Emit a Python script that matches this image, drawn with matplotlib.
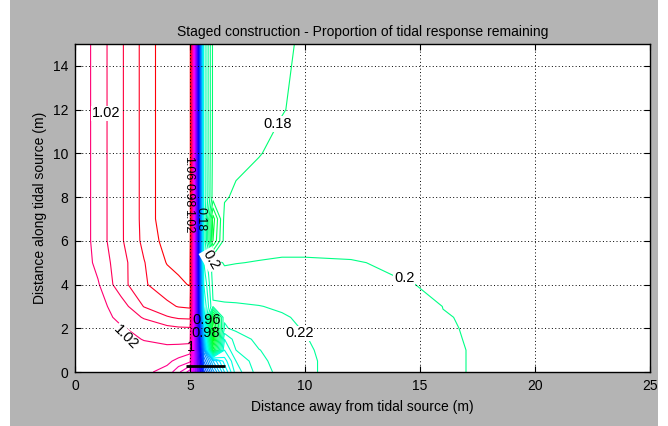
import numpy as np
import matplotlib
matplotlib.use('Agg')
import matplotlib.pyplot as plt
from matplotlib.colors import hsv_to_rgb
from matplotlib.patches import Rectangle

# ---- data -----------------------------------------------------------------
x_nodes = [0, 1, 2, 3, 4, 4.5, 5.0, 5.6, 6.0, 6.5, 7, 8, 9, 10, 12, 14, 16, 18, 20, 25]
y_nodes = [0, 0.5, 1, 1.5, 2, 2.5, 3, 4, 5, 6, 7, 8, 10, 12, 15]

# proportion of tidal response remaining, one row per y node
z_y00 = [1.001, 1.001, 1.003, 1.004, 0.994, 0.965, 0.930, 0.55, 0.45, 0.36, 0.29, 0.25, 0.233, 0.2215, 0.216, 0.210, 0.2015, 0.1985, 0.198, 0.197]
z_y05 = [1.001, 1.002, 1.005, 1.008, 1.004, 0.995, 0.985, 0.50, 0.40, 0.33, 0.28, 0.245, 0.232, 0.2215, 0.216, 0.210, 0.2015, 0.1985, 0.198, 0.197]
z_y10 = [1.001, 1.003, 1.008, 1.013, 1.015, 1.012, 1.008, 0.45, 0.12, 0.30, 0.26, 0.2405, 0.233, 0.2215, 0.214, 0.209, 0.2015, 0.1985, 0.198, 0.197]
z_y15 = [1.001, 1.005, 1.013, 1.021, 1.025, 1.027, 1.028, 0.40, 0.07, 0.28, 0.25, 0.235, 0.227, 0.2205, 0.214, 0.208, 0.2011, 0.1985, 0.198, 0.197]
z_y20 = [1.001, 1.007, 1.018, 1.027, 1.034, 1.037, 1.038, 0.36, 0.08, 0.242, 0.236, 0.231, 0.2235, 0.219, 0.213, 0.207, 0.2008, 0.1985, 0.198, 0.197]
z_y25 = [1.001, 1.011, 1.025, 1.042, 1.058, 1.063, 1.064, 0.33, 0.10, 0.238, 0.234, 0.228, 0.2215, 0.2175, 0.212, 0.206, 0.2003, 0.199, 0.198, 0.197]
z_y30 = [1.001, 1.013, 1.030, 1.061, 1.076, 1.081, 1.083, 0.30, 0.222, 0.222, 0.222, 0.2205, 0.218, 0.215, 0.211, 0.206, 0.1999, 0.198, 0.197, 0.196]
z_y40 = [1.001, 1.018, 1.052, 1.078, 1.090, 1.097, 1.101, 0.28, 0.215, 0.212, 0.21, 0.209, 0.208, 0.207, 0.205, 0.201, 0.1985, 0.197, 0.196, 0.195]
z_y50 = [1.001, 1.026, 1.052, 1.079, 1.101, 1.104, 1.106, 0.26, 0.21, 0.198, 0.1995, 0.2008, 0.202, 0.202, 0.201, 0.198, 0.196, 0.195, 0.194, 0.193]
z_y60 = [1.001, 1.029, 1.057, 1.085, 1.108, 1.112, 1.114, 0.26, 0.12, 0.188, 0.192, 0.193, 0.194, 0.194, 0.194, 0.194, 0.194, 0.194, 0.194, 0.194]
z_y70 = [1.001, 1.029, 1.057, 1.086, 1.114, 1.117, 1.118, 0.26, 0.11, 0.186, 0.19, 0.191, 0.192, 0.192, 0.192, 0.192, 0.192, 0.192, 0.192, 0.192]
z_y80 = [1.001, 1.029, 1.057, 1.086, 1.114, 1.117, 1.118, 0.26, 0.17, 0.178, 0.183, 0.185, 0.186, 0.187, 0.188, 0.189, 0.189, 0.190, 0.190, 0.190]
z_y100 = [1.001, 1.029, 1.057, 1.086, 1.114, 1.117, 1.118, 0.26, 0.174, 0.172, 0.175, 0.1795, 0.183, 0.185, 0.187, 0.188, 0.189, 0.190, 0.190, 0.190]
z_y120 = [1.001, 1.029, 1.057, 1.086, 1.114, 1.117, 1.118, 0.26, 0.175, 0.172, 0.173, 0.175, 0.1795, 0.1825, 0.186, 0.188, 0.189, 0.190, 0.190, 0.190]
z_y150 = [1.001, 1.029, 1.057, 1.086, 1.114, 1.117, 1.118, 0.26, 0.175, 0.172, 0.172, 0.174, 0.1786, 0.1812, 0.186, 0.188, 0.189, 0.190, 0.190, 0.190]

# contour labels: text, x, y, rotation, white background
label_text = ['1.02', '1.02', '0.18', '0.2', '0.22', '0.2', '0.96', '0.98', '1',
              '1.06', '0.98', '1.02', '0.18']
label_x = [1.34, 2.2, 8.81, 14.31, 9.75, 5.9, 5.72, 5.7, 5.05, 4.93, 4.93, 4.93, 5.47]
label_y = [11.83, 1.57, 11.35, 4.28, 1.77, 5.14, 2.39, 1.77, 1.15, 9.3, 8.1, 6.9, 7.0]
label_rot = [0, -45, 0, 0, 0, -60, 0, 0, 0, -90, -90, -90, -90]
label_size = [10.5, 10.5, 10.5, 10.5, 10.5, 10.5, 10.5, 10.5, 10.5, 9, 9, 9, 9]
label_bg = [True, True, True, True, True, True, False, False, False, False, False, False, False]

# black segment at the base of the wall
seg_x = [4.83, 6.52]
seg_y = [0.27, 0.27]

title = 'Staged construction - Proportion of tidal response remaining'
xlabel = 'Distance away from tidal source (m)'
ylabel = 'Distance along tidal source (m)'
xticks = [0, 5, 10, 15, 20, 25]
yticks = [0, 2, 4, 6, 8, 10, 12, 14]

# ---- drawing ----------------------------------------------------------------
plt.rcParams['font.family'] = ['Liberation Sans', 'DejaVu Sans']

Z = np.array([z_y00, z_y05, z_y10, z_y15, z_y20, z_y25, z_y30, z_y40, z_y50,
              z_y60, z_y70, z_y80, z_y100, z_y120, z_y150])
X, Y = np.meshgrid(x_nodes, y_nodes)

levels = np.round(np.arange(0.02, 1.1001, 0.02), 2)
hues = np.interp(levels, [0.0, 0.2, 0.95, 1.02, 1.1], [0.30, 0.42, 0.87, 0.925, 0.995])
line_colors = [hsv_to_rgb((h, 1.0, 1.0)) for h in hues]

W, H = 668, 426
fig = plt.figure(figsize=(W / 100, H / 100), dpi=100, facecolor='white')
fig.patches.append(Rectangle((10 / W, 0), 648 / W, 1, transform=fig.transFigure,
                             facecolor='#b4b4b4', edgecolor='none', zorder=-10))
ax = fig.add_axes([75 / W, 54 / H, 575 / W, 328 / H])
ax.set_facecolor('white')

ax.contour(X, Y, Z, levels=levels, colors=line_colors, linewidths=0.8)
ax.plot(seg_x, seg_y, color='black', linewidth=2, solid_capstyle='butt')

for t, x, y, r, fs, bg in zip(label_text, label_x, label_y, label_rot, label_size, label_bg):
    kw = {}
    if bg:
        kw['bbox'] = dict(facecolor='white', edgecolor='none', pad=0.5)
    ax.text(x, y, t, rotation=r, ha='center', va='center', fontsize=fs,
            color='black', rotation_mode='anchor', **kw)

ax.set_xlim(0, 25)
ax.set_ylim(0, 15)
ax.set_xticks(xticks)
ax.set_yticks(yticks)
ax.grid(True, color='black', linestyle=(0, (1, 2.5)), linewidth=0.7)
ax.set_axisbelow(False)
ax.tick_params(direction='in', top=True, right=True, length=4, labelsize=10,
               colors='black', pad=5)
for s in ax.spines.values():
    s.set_linewidth(1.0)
    s.set_color('black')

ax.set_title(title, fontsize=10, pad=6)
ax.set_xlabel(xlabel, fontsize=10, labelpad=5)
ax.set_ylabel(ylabel, fontsize=10, labelpad=4)

fig.savefig('out.png', dpi=100, facecolor=fig.get_facecolor())
